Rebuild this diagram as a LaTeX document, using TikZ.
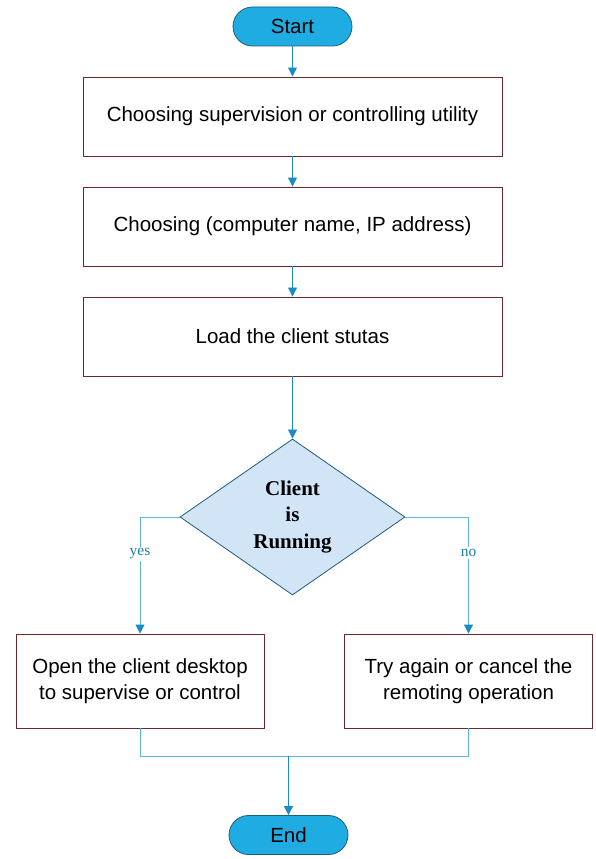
\documentclass[tikz,border=0pt]{standalone}
\usepackage{fontspec}
\setmainfont{Liberation Sans}
\newfontfamily\serifbold{Liberation Serif}
\usetikzlibrary{shapes.geometric,arrows.meta}
\definecolor{termfill}{HTML}{1FACE2}
\definecolor{termline}{HTML}{1F5C78}
\definecolor{boxline}{HTML}{6A2A2A}
\definecolor{decfill}{HTML}{D2E5F6}
\definecolor{arrowblue}{HTML}{1A8CC4}
\definecolor{linkblue}{HTML}{5AB6DC}
\definecolor{labelteal}{HTML}{1E7FA8}
\tikzset{
  terminal/.style={draw=termline, line width=0.8pt, fill=termfill, rounded corners=19.5pt,
    minimum width=119pt, minimum height=39pt, inner sep=0pt, font=\fontsize{20.5}{24}\selectfont},
  procbox/.style={draw=boxline, line width=0.9pt, fill=white, minimum width=419pt,
    minimum height=79pt, inner sep=0pt, align=center, font=\fontsize{20.5}{26}\selectfont},
  sidebox/.style={draw=boxline, line width=0.9pt, fill=white, minimum width=248pt,
    minimum height=94pt, inner sep=0pt, align=center, font=\fontsize{20.5}{26}\selectfont},
  decision/.style={draw=termline, line width=0.8pt, fill=decfill, diamond, aspect=1.44,
    minimum width=225pt, minimum height=156pt, inner sep=0pt, align=center,
    font=\serifbold\bfseries\fontsize{21}{26.5}\selectfont},
  flow/.style={draw=arrowblue, line width=0.8pt, -{Triangle[width=9pt,length=9pt]}},
  branch/.style={draw=linkblue, line width=0.9pt, -{Triangle[width=9pt,length=9pt,color=arrowblue]}},
  link/.style={draw=linkblue, line width=0.9pt},
  branchlabel/.style={fill=white, inner sep=2pt, text=labelteal, font=\serifbold\fontsize{15.5}{18}\selectfont}
}
\begin{document}
\begin{tikzpicture}[x=1pt,y=-1pt]
\useasboundingbox (0,0) rectangle (595,859);

\node[terminal] (start) at (292.5,26.5) {Start};
\node[procbox] (util) at (292.5,116.5) {Choosing supervision or controlling utility};
\node[procbox] (addr) at (292.5,226.5) {Choosing (computer name, IP address)};
\node[procbox] (load) at (292.5,336.5) {Load the client stutas};
\node[decision] (run) at (292.5,517) {Client\\is\\Running};
\node[sidebox] (open) at (140,681) {Open the client desktop\\to supervise or control};
\node[sidebox] (retry) at (468.5,681) {Try again or cancel the\\remoting operation};
\node[terminal] (end) at (288.5,835) {End};

\coordinate (join) at (288.5,756);

\draw[flow] (start) -- (util);
\draw[flow] (util) -- (addr);
\draw[flow] (addr) -- (load);
\draw[flow] (load) -- (run);

\draw[branch] (run.west) -| (open.north);
\draw[branch] (run.east) -| (retry.north);
\node[branchlabel] (yes) at (140,554) {yes};
\node[branchlabel] (no) at (468.5,553) {no};

\draw[link] (open.south) |- (join);
\draw[link] (retry.south) |- (join);
\draw[flow] (join) -- (end);
\end{tikzpicture}
\end{document}
